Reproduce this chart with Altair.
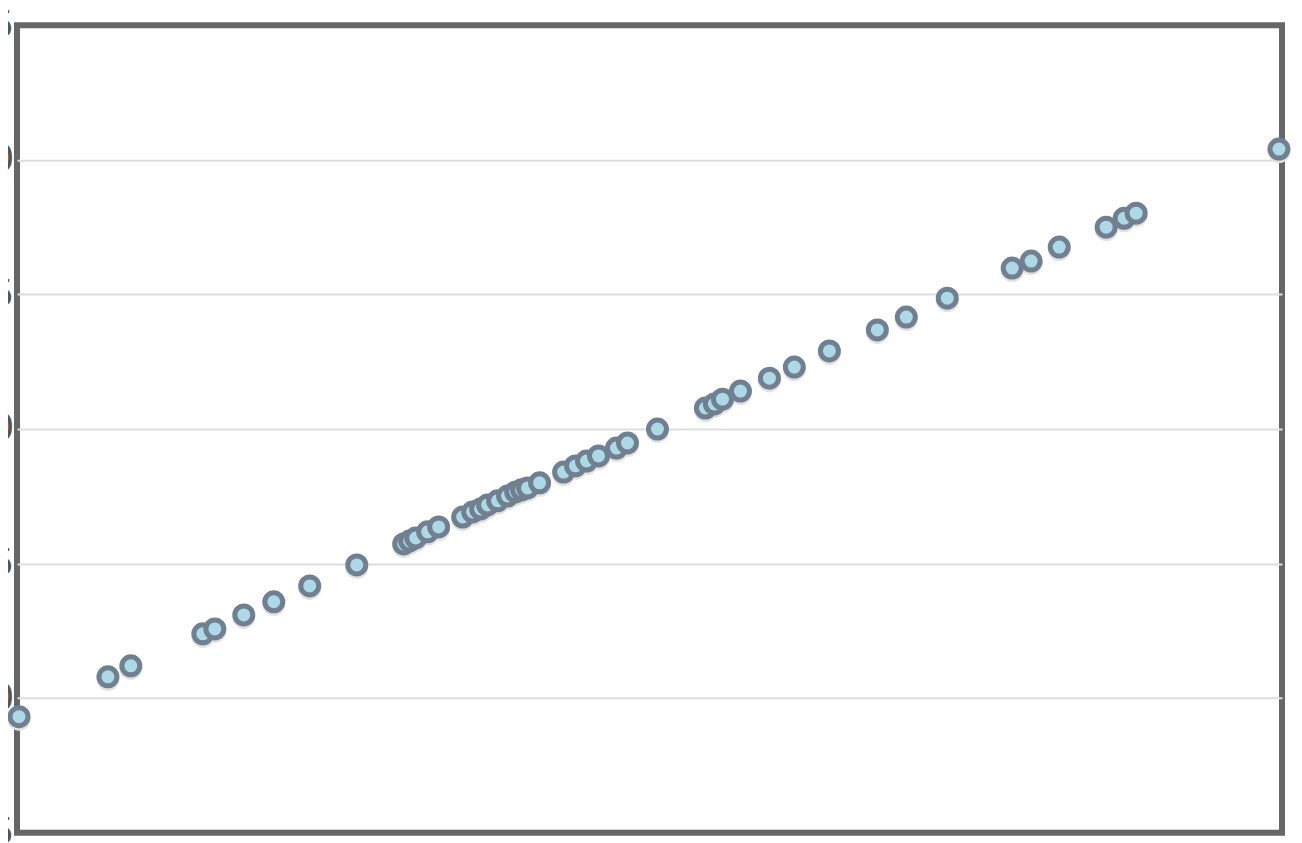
import altair as alt
import pandas as pd

x_vals = [0.16, 7.19, 9.00, 14.69, 15.64, 17.93, 20.30, 23.14, 26.86, 30.57,
          31.04, 31.52, 32.46, 33.33, 35.23, 36.02, 36.65, 37.20, 37.99, 38.78,
          39.42, 39.89, 40.36, 41.31, 43.21, 44.15, 45.02, 45.97, 47.39, 48.26,
          50.63, 54.42, 55.13, 55.77, 57.19, 59.48, 61.45, 64.22, 68.01, 70.30,
          73.54, 78.67, 80.17, 82.39, 86.10, 87.52, 88.47, 99.76]
y_vals = [9.31, 10.79, 11.20, 12.39, 12.57, 13.09, 13.58, 14.17, 14.95, 15.73,
          15.84, 15.95, 16.18, 16.36, 16.73, 16.92, 17.03, 17.18, 17.33, 17.51,
          17.66, 17.74, 17.81, 18.00, 18.40, 18.63, 18.81, 19.00, 19.29, 19.48,
          20.00, 20.78, 20.93, 21.11, 21.41, 21.89, 22.30, 22.90, 23.68, 24.16,
          24.86, 25.98, 26.24, 26.76, 27.50, 27.83, 28.02, 30.40]
y_ticks = [5, 10, 15, 20, 25, 30, 35]

df = pd.DataFrame({"x": x_vals, "y": y_vals})

xenc = alt.X("x:Q", scale=alt.Scale(domain=[0, 100], nice=False, zero=False), axis=None)
yenc = alt.Y("y:Q", scale=alt.Scale(domain=[5, 35], nice=False, zero=False),
             axis=alt.Axis(values=y_ticks, title=None, ticks=False, domain=False,
                           grid=True,
                           gridColor={"condition": {"test": "datum.value == 5 || datum.value == 35",
                                                    "value": "transparent"},
                                      "value": "#dddddd"},
                           gridWidth=2,
                           labelFontSize=38, labelColor="#555555", labelPadding=3,
                           labelFont="DejaVu Sans"))

shadow = alt.Chart(df).mark_point(
    filled=True, shape="circle", size=529, color="#e2e2e2", opacity=1, yOffset=2.5
).encode(x=xenc, y=yenc)

pts = alt.Chart(df).mark_point(
    filled=True, shape="circle", size=324, fill="#add8e6", stroke="#708090",
    strokeWidth=5, opacity=1, fillOpacity=1, strokeOpacity=1
).encode(x=xenc, y=yenc)

chart = alt.layer(shadow, pts).properties(
    width=1266, height=808,
    autosize=alt.AutoSizeParams(type="none"),
    padding={"left": 9, "top": 17, "right": 12, "bottom": 20},
).configure_view(stroke="#666666", strokeWidth=6)

chart.save("out.html", embed_options={"renderer": "svg", "actions": False})
